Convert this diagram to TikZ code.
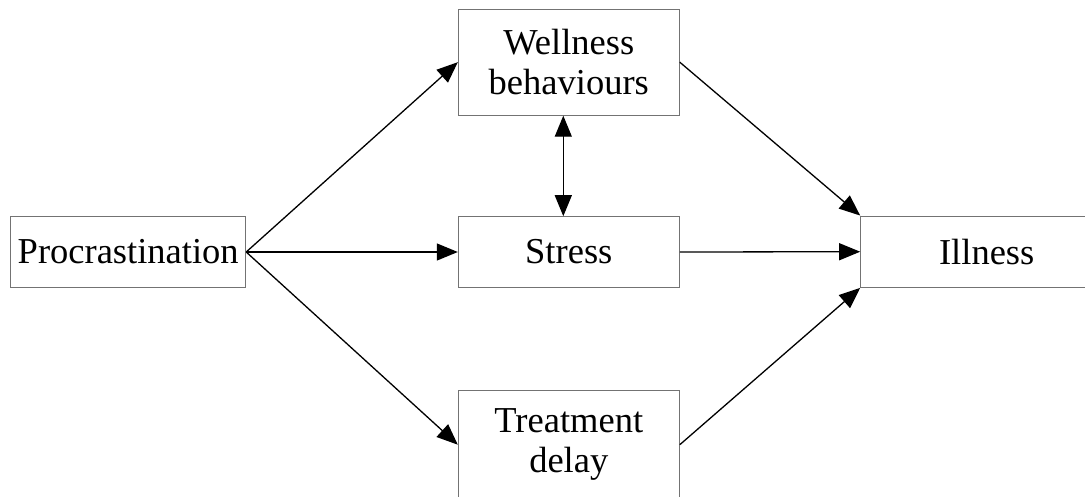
\documentclass[tikz,border=0pt]{standalone}
\usepackage{fontspec}
\setmainfont{Liberation Serif}
\usetikzlibrary{arrows.meta,calc}
\begin{document}
\begin{tikzpicture}[x=1pt,y=-1pt,
  box/.style={draw=black!55,line width=1pt,inner sep=0pt,minimum width=221pt,minimum height=107pt,align=center,font=\fontsize{36.5}{40}\selectfont},
  arr/.style={line width=1.3pt,-{Triangle[length=21pt,width=17pt]}},
  darr/.style={line width=1.3pt,{Triangle[length=21pt,width=17pt]}-{Triangle[length=21pt,width=17pt]}}]
\clip (0,0) rectangle (1085,496);
\node[box,minimum width=235pt,minimum height=70.6pt] (proc) at (128.2,252) {Procrastination};
\node[box,minimum height=106pt] (well) at (568.8,62.2) {Wellness\\behaviours};
\node[box,minimum height=70.6pt] (stress) at (568.8,252) {Stress};
\node[box,minimum height=108pt] (treat) at (568.8,444.7) {Treatment\\delay};
\node[box,minimum width=252pt,minimum height=71.3pt] (ill) at (986.7,251.7) {Illness};
\draw[arr] (proc.east) -- (well.west);
\draw[arr] (proc.east) -- (stress.west);
\draw[arr] (proc.east) -- (treat.west);
\draw[arr] (well.east) -- (ill.north west);
\draw[arr] (stress.east) -- (ill.west);
\draw[arr] (treat.east) -- (ill.south west);
\draw[darr] ([xshift=-5.5pt]well.south) -- ([xshift=-5.5pt]stress.north);
\end{tikzpicture}
\end{document}
